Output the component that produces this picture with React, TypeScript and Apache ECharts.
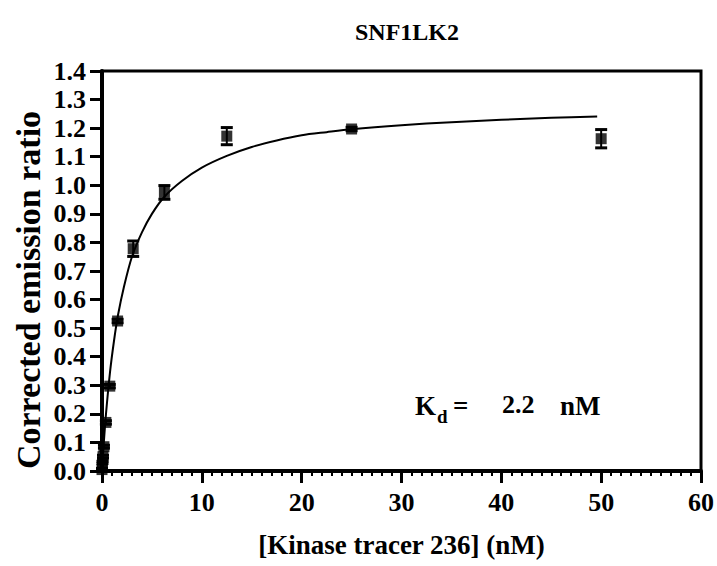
import React, { useEffect, useRef } from "react";
import * as echarts from "echarts";

const concentrations = [0, 0.049, 0.098, 0.195, 0.39, 0.78, 1.5625, 3.125, 6.25, 12.5, 25, 50];
const ratios = [0.005, 0.03, 0.05, 0.085, 0.17, 0.297, 0.525, 0.778, 0.975, 1.172, 1.197, 1.163];
const sems = [0.004, 0.004, 0.005, 0.005, 0.006, 0.006, 0.006, 0.027, 0.024, 0.03, 0.006, 0.032];

const curveX = [0, 0.2, 0.4, 0.8, 1.2, 1.6, 2.2, 3, 4, 5, 6.25, 8, 10, 12.5, 15, 17.5, 20, 22.5, 25, 30, 35, 40, 45, 49.6];
const curveY = [0, 0.108, 0.2, 0.345, 0.455, 0.545, 0.645, 0.75, 0.835, 0.9, 0.96, 1.015, 1.062, 1.103, 1.134, 1.157, 1.175, 1.186, 1.196, 1.21, 1.221, 1.229, 1.236, 1.241];

const xTicks = { min: 0, max: 60, interval: 10 };
const yTicks = { min: 0, max: 1.4, interval: 0.1 };

const chartTitle = "SNF1LK2";
const xTitle = "[Kinase tracer 236] (nM)";
const yTitle = "Corrected emission ratio";

const FONT = "'Liberation Serif', 'Times New Roman', serif";

export default function App() {
  const ref = useRef<HTMLDivElement>(null);
  useEffect(() => {
    if (!ref.current) return;
    const chart = echarts.init(ref.current, null, { renderer: "svg" });
    const points = concentrations.map((c, i) => [c, ratios[i]]);
    const errs = concentrations.map((c, i) => [c, ratios[i] - sems[i], ratios[i] + sems[i]]);
    const curve = curveX.map((x, i) => [x, curveY[i]]);
    chart.setOption({
      animation: false,
      backgroundColor: "#fff",
      textStyle: { fontFamily: FONT },
      grid: { left: 102, top: 71, right: 15, bottom: 95, show: true, borderColor: "#000", borderWidth: 3, backgroundColor: "transparent" },
      xAxis: {
        type: "value",
        min: xTicks.min,
        max: xTicks.max,
        interval: xTicks.interval,
        axisLine: { show: true, onZero: false, lineStyle: { color: "#000", width: 4 } },
        axisTick: { show: true, inside: false, length: 12, lineStyle: { color: "#000", width: 3 } },
        minorTick: { show: true, splitNumber: 10, length: 5, lineStyle: { color: "#000", width: 2 } },
        splitLine: { show: false },
        axisLabel: { color: "#000", fontFamily: FONT, fontWeight: "bold", fontSize: 26, margin: 18 },
        name: xTitle,
        nameLocation: "middle",
        nameGap: 60,
        nameTextStyle: { color: "#000", fontFamily: FONT, fontWeight: "bold", fontSize: 27 },
      },
      yAxis: {
        type: "value",
        min: yTicks.min,
        max: yTicks.max,
        interval: yTicks.interval,
        axisLine: { show: true, onZero: false, lineStyle: { color: "#000", width: 4 } },
        axisTick: { show: true, inside: false, length: 12, lineStyle: { color: "#000", width: 3 } },
        splitLine: { show: false },
        axisLabel: { color: "#000", fontFamily: FONT, fontWeight: "bold", fontSize: 26, margin: 16, formatter: (v: number) => v.toFixed(1) },
      },
      title: {
        text: chartTitle,
        left: 402,
        top: 15,
        textAlign: "center",
        textStyle: { color: "#000", fontFamily: FONT, fontWeight: "bold", fontSize: 24 },
      },
      graphic: [
        { type: "text", x: 28, y: 290, rotation: Math.PI / 2, style: { text: yTitle, font: `bold 34px ${FONT}`, fill: "#000", textAlign: "center", textVerticalAlign: "middle" } },
        { type: "text", x: 415, y: 406, style: { text: "K", font: `bold 27px ${FONT}`, fill: "#000", textAlign: "left", textVerticalAlign: "middle" } },
        { type: "text", x: 437, y: 416, style: { text: "d", font: `bold 19px ${FONT}`, fill: "#000", textAlign: "left", textVerticalAlign: "middle" } },
        { type: "text", x: 453, y: 406, style: { text: "=", font: `bold 27px ${FONT}`, fill: "#000", textAlign: "left", textVerticalAlign: "middle" } },
        { type: "text", x: 502, y: 404, style: { text: "2.2", font: `bold 26px ${FONT}`, fill: "#000", textAlign: "left", textVerticalAlign: "middle" } },
        { type: "text", x: 560, y: 406, style: { text: "nM", font: `bold 27px ${FONT}`, fill: "#000", textAlign: "left", textVerticalAlign: "middle" } },
      ],
      series: [
        {
          type: "line",
          data: curve,
          smooth: 0.3,
          showSymbol: false,
          symbol: "none",
          lineStyle: { color: "#000", width: 2 },
          z: 2,
        },
        {
          type: "custom",
          data: errs,
          encode: { x: 0, y: [1, 2] },
          z: 3,
          renderItem: (params: any, api: any) => {
            const x = api.value(0);
            const lo = api.coord([x, api.value(1)]);
            const hi = api.coord([x, api.value(2)]);
            const hw = 6;
            const st = { stroke: "#000", lineWidth: 2 };
            const cap = { stroke: "#000", lineWidth: 3 };
            return {
              type: "group",
              children: [
                { type: "line", shape: { x1: lo[0], y1: lo[1], x2: hi[0], y2: hi[1] }, style: st },
                { type: "line", shape: { x1: lo[0] - hw, y1: lo[1], x2: lo[0] + hw, y2: lo[1] }, style: cap },
                { type: "line", shape: { x1: hi[0] - hw, y1: hi[1], x2: hi[0] + hw, y2: hi[1] }, style: cap },
              ],
            };
          },
        },
        {
          type: "scatter",
          data: points,
          symbol: "rect",
          symbolSize: 11,
          itemStyle: { color: "#000" },
          z: 4,
        },
      ],
    });
    return () => chart.dispose();
  }, []);
  return <div ref={ref} style={{ position: "absolute", left: 0, top: 0, width: 717, height: 566 }} />;
}
